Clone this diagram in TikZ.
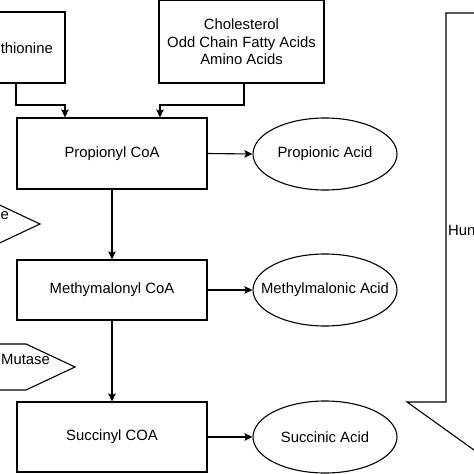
\documentclass[tikz,border=0pt]{standalone}
\usepackage{fontspec}
\setmainfont{Liberation Sans}
\usetikzlibrary{shapes.geometric,arrows.meta}
\newlength{\du}
\setlength{\du}{1bp}
\newcommand{\ovaltext}[1]{\makebox[0pt]{#1}}
\tikzset{
  every node/.style={font=\fontsize{14.9}{18}\selectfont},
  stepbox/.style={draw,rectangle,line width=1.1\du,inner sep=0pt},
  acidoval/.style={draw,ellipse,line width=1.1\du,inner sep=0pt,minimum width=144\du,minimum height=72\du},
  flow/.style={line width=1.1\du,-{Stealth[length=8bp,width=7.5bp,inset=1.5bp]}},
  cutlbl/.style={inner sep=0pt}
}

\begin{document}
\begin{tikzpicture}
\pgftransformxscale{1.000000}
\pgftransformyscale{-1.000000}
\useasboundingbox (0\du,0\du) rectangle (474\du,474\du);
\clip (0\du,0\du) rectangle (474\du,474\du);
% sources
\node[stepbox,minimum width=98\du,minimum height=71\du] (met) at (16\du,47.5\du){};
\node[cutlbl,anchor=east] (metlbl) at (53\du,48\du){thionine};
\node[stepbox,minimum width=165\du,minimum height=82.5\du,align=center] (chol) at (241.5\du,41.75\du){Cholesterol\\Odd Chain Fatty Acids\\Amino Acids};
% pathway
\node[stepbox,minimum width=190\du,minimum height=71\du] (prop) at (112\du,153.5\du){Propionyl CoA};
\node[stepbox,minimum width=190\du,minimum height=60\du] (methy) at (112\du,290\du){Methymalonyl CoA};
\node[stepbox,minimum width=190\du,minimum height=70\du] (succ) at (112\du,437\du){Succinyl COA};
\node[acidoval] (propac) at (325\du,154\du){\ovaltext{Propionic Acid}};
\node[acidoval] (methac) at (325\du,290\du){\ovaltext{Methylmalonic Acid}};
\node[acidoval] (succac) at (325\du,437\du){\ovaltext{Succinic Acid}};
% connectors
\coordinate (metbend) at (65\du,105\du);
\coordinate (cholbend) at (160\du,105\du);
\draw[flow] (met.south) |- (metbend) -- (metbend |- prop.north);
\draw[flow] ([xshift=2.5\du]chol.south) |- (cholbend) -- (cholbend |- prop.north);
\draw[flow] (prop.east) -- (propac.west);
\draw[flow] (methy.east) -- (methac.west);
\draw[flow] (succ.east) -- (succac.west);
\draw[flow] (prop.south) -- (methy.north);
\draw[flow] (methy.south) -- (succ.north);
% enzyme pointers
\draw[line width=1.1\du] (-30\du,203\du)--(-4.7\du,203\du)--(40\du,224\du)--(-4.7\du,245\du)--(-30\du,245\du);
\node[cutlbl,anchor=west] (enzone) at (0.5\du,216\du){e};
\draw[line width=1.1\du] (-30\du,344\du)--(26\du,344\du)--(75\du,367\du)--(26\du,390\du)--(-30\du,390\du);
\node[cutlbl,anchor=west] (enztwo) at (1\du,359\du){Mutase};
% big arrow on the right
\draw[line width=1.1\du] (520\du,13\du)--(446\du,13\du)--(446\du,402\du)--(407\du,402\du)--(541\du,498\du);
\node[cutlbl,anchor=base west] (hum) at (448\du,235.5\du){Hun};
\end{tikzpicture}
\end{document}
